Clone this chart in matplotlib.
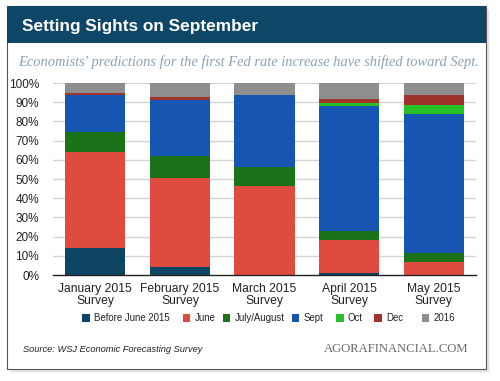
import matplotlib
matplotlib.use("Agg")
import matplotlib.pyplot as plt
from matplotlib.patches import Rectangle
import numpy as np

categories = ["January 2015\nSurvey", "February 2015\nSurvey", "March 2015\nSurvey",
              "April 2015\nSurvey", "May 2015\nSurvey"]
series_names = ["Before June 2015", "June", "July/August", "Sept", "Oct", "Dec", "2016"]
before_june = [14.0, 4.3, 0.0, 1.0, 0.0]
june = [50.0, 46.0, 46.5, 17.0, 7.0]
july_aug = [10.5, 11.7, 10.0, 5.0, 4.7]
sept = [19.0, 29.0, 37.0, 65.0, 72.3]
octo = [0.0, 0.0, 0.0, 1.5, 4.6]
dec = [1.5, 1.5, 0.0, 2.0, 5.1]
y2016 = [5.0, 7.5, 6.5, 8.5, 6.4]
yticks = [0, 10, 20, 30, 40, 50, 60, 70, 80, 90, 100]

colors = ["#0e4565", "#e04b3f", "#1b7218", "#1655b2", "#27c027", "#a0322c", "#8e8e8e"]
series = [before_june, june, july_aug, sept, octo, dec, y2016]

W, H = 500, 381
fig = plt.figure(figsize=(W / 100, H / 100), dpi=100)
fig.patch.set_facecolor("white")

def fx(x):
    return x / W

def fy(y):
    return 1 - y / H

# shadow
for i, a in enumerate([0.10, 0.07, 0.04]):
    d = 1 + i * 1.5
    fig.patches.append(Rectangle((fx(7 + d), fy(369 + d)), fx(479), 363 / H,
                                 transform=fig.transFigure, facecolor="black",
                                 alpha=a, edgecolor="none", zorder=0))
# card
fig.patches.append(Rectangle((fx(7), fy(369)), fx(479), 363 / H, transform=fig.transFigure,
                             facecolor="white", edgecolor="#555555", linewidth=0.8, zorder=1))
# header band
fig.patches.append(Rectangle((fx(7), fy(43)), fx(479), 37 / H, transform=fig.transFigure,
                             facecolor="#0d4666", edgecolor="none", zorder=2))
fig.text(fx(22), fy(26), "Setting Sights on September", color="white", fontsize=12.4,
         fontweight="bold", family="Liberation Sans", va="center", ha="left", zorder=3)
fig.text(fx(248.5), fy(62), "Economists' predictions for the first Fed rate increase have shifted toward Sept.",
         color="#8ba2b6", fontsize=10.45, style="italic", family="Liberation Serif",
         va="center", ha="center", zorder=3)

ax = fig.add_axes([fx(53), fy(275), fx(476 - 53), (275 - 83) / H], zorder=4)
ax.set_facecolor("none")
x = np.arange(len(categories))
bottom = np.zeros(len(categories))
for name, vals, c in zip(series_names, series, colors):
    ax.bar(x, vals, width=0.71, bottom=bottom, color=c, label=name, zorder=3)
    bottom += np.array(vals)
ax.set_xlim(-0.5, 4.5)
ax.set_ylim(0, 100)
ax.set_yticks(yticks)
ax.set_yticklabels([f"{t}%" for t in yticks], fontsize=8.5, family="Liberation Sans", color="#222222")
ax.set_xticks(x)
ax.set_xticklabels(categories, fontsize=8.7, family="Liberation Sans", linespacing=1.0, color="#222222")
ax.tick_params(axis="both", length=0)
ax.tick_params(axis="x", pad=6)
ax.tick_params(axis="y", pad=10)
for t in yticks[1:]:
    ax.axhline(t, color="#d4d4d4", linewidth=1.0, zorder=1)
for s in ["top", "right", "left"]:
    ax.spines[s].set_visible(False)
ax.spines["bottom"].set_color("#222222")
ax.spines["bottom"].set_linewidth(1.0)
ax.spines["bottom"].set_zorder(5)

# legend
leg_x = [82, 182.7, 222.7, 291.7, 336, 374.3, 421.7]
for lx, name, c in zip(leg_x, series_names, colors):
    fig.patches.append(Rectangle((fx(lx), fy(321.5)), fx(7.5), 7.5 / H, transform=fig.transFigure,
                                 facecolor=c, edgecolor="none", zorder=6))
    fig.text(fx(lx + 12), fy(317.8), name, fontsize=6.9, family="Liberation Sans",
             va="center", ha="left", color="#222222", zorder=6)

fig.text(fx(23), fy(350), "Source: WSJ Economic Forecasting Survey", fontsize=6.7,
         style="italic", family="Liberation Sans", va="center", ha="left", color="#222222", zorder=6)
fig.text(fx(468), fy(349), "AGORAFINANCIAL.COM", fontsize=9.1, family="Liberation Serif",
         va="center", ha="right", color="#6a6a6a", zorder=6)

fig.savefig("out.png", dpi=100, facecolor="white")
